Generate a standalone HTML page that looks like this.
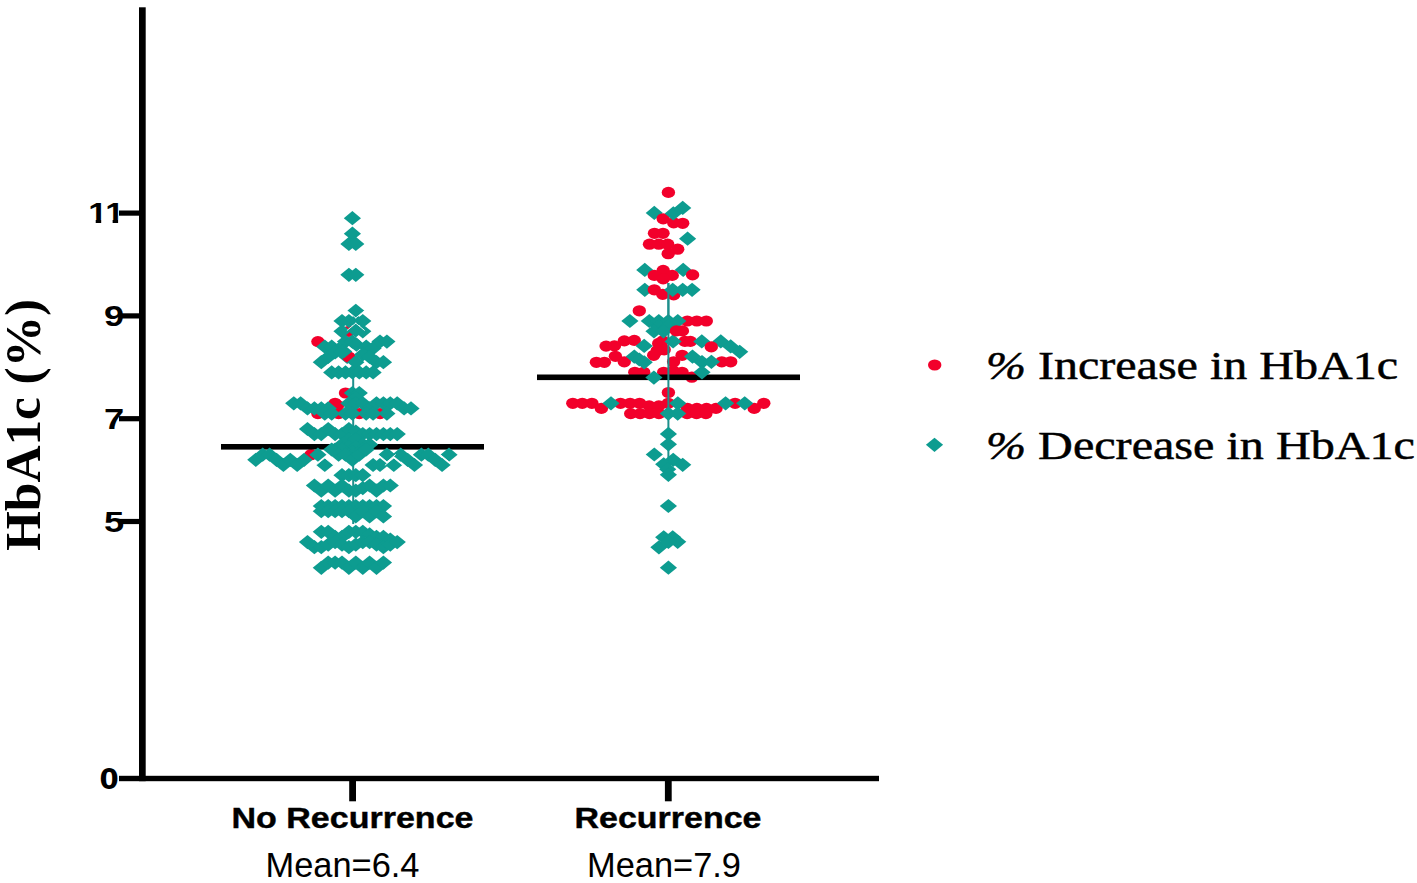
<!DOCTYPE html>
<html lang="en"><head><meta charset="utf-8"><title>HbA1c (%) by recurrence</title>
<style>html,body{margin:0;padding:0;background:#fff;overflow:hidden}svg{display:block}</style></head>
<body>
<svg width="1417" height="883" viewBox="0 0 1417 883">
<rect width="1417" height="883" fill="#fff"/>
<g id="left-under"><g fill="#0D9C90"><path d="M338.6 357.0L347.2 349.9L355.8 357.0L347.2 364.1Z"/></g></g>
<g id="left-red"><g fill="#F2002B"><ellipse cx="348.9" cy="331.3" rx="6.7" ry="5.6"/></g>
<g fill="#F2002B"><ellipse cx="317.9" cy="341.6" rx="6.7" ry="5.6"/></g>
<g fill="#F2002B"><ellipse cx="348.9" cy="357.0" rx="6.7" ry="5.6"/></g>
<g fill="#F2002B"><ellipse cx="345.5" cy="393.0" rx="6.7" ry="5.6"/></g>
<g fill="#F2002B"><ellipse cx="317.9" cy="413.6" rx="6.7" ry="5.6"/></g>
<g fill="#F2002B"><ellipse cx="338.6" cy="413.6" rx="6.7" ry="5.6"/></g>
<g fill="#F2002B"><ellipse cx="359.3" cy="413.6" rx="6.7" ry="5.6"/></g>
<g fill="#F2002B"><ellipse cx="380.0" cy="413.6" rx="6.7" ry="5.6"/></g>
<g fill="#F2002B"><ellipse cx="335.1" cy="403.3" rx="6.7" ry="5.6"/></g>
<g fill="#F2002B"><ellipse cx="337.5" cy="405.5" rx="6.7" ry="5.6"/></g>
<g fill="#F2002B"><ellipse cx="311.0" cy="454.7" rx="6.7" ry="5.6"/></g></g>
<g id="right-0c"><g fill="#F2002B"><ellipse cx="668.4" cy="192.4" rx="6.7" ry="5.6"/></g>
<g fill="#F2002B"><ellipse cx="654.5" cy="233.3" rx="6.7" ry="5.6"/></g>
<g fill="#F2002B"><ellipse cx="663.0" cy="233.3" rx="6.7" ry="5.6"/></g>
<g fill="#F2002B"><ellipse cx="649.5" cy="244.2" rx="6.7" ry="5.6"/></g>
<g fill="#F2002B"><ellipse cx="658.8" cy="244.2" rx="6.7" ry="5.6"/></g>
<g fill="#F2002B"><ellipse cx="667.7" cy="244.2" rx="6.7" ry="5.6"/></g>
<g fill="#F2002B"><ellipse cx="677.7" cy="249.2" rx="6.7" ry="5.6"/></g>
<g fill="#F2002B"><ellipse cx="668.2" cy="253.7" rx="6.7" ry="5.6"/></g>
<g fill="#F2002B"><ellipse cx="639.3" cy="310.8" rx="6.7" ry="5.6"/></g>
<g fill="#F2002B"><ellipse cx="687.3" cy="321.0" rx="6.7" ry="5.6"/></g>
<g fill="#F2002B"><ellipse cx="696.8" cy="321.0" rx="6.7" ry="5.6"/></g>
<g fill="#F2002B"><ellipse cx="706.3" cy="321.0" rx="6.7" ry="5.6"/></g>
<g fill="#F2002B"><ellipse cx="624.3" cy="340.9" rx="6.7" ry="5.6"/></g>
<g fill="#F2002B"><ellipse cx="634.3" cy="340.4" rx="6.7" ry="5.6"/></g>
<g fill="#F2002B"><ellipse cx="658.7" cy="343.4" rx="6.7" ry="5.6"/></g>
<g fill="#F2002B"><ellipse cx="662.7" cy="340.9" rx="6.7" ry="5.6"/></g>
<g fill="#F2002B"><ellipse cx="657.2" cy="350.8" rx="6.7" ry="5.6"/></g>
<g fill="#F2002B"><ellipse cx="664.2" cy="349.8" rx="6.7" ry="5.6"/></g>
<g fill="#F2002B"><ellipse cx="653.7" cy="355.3" rx="6.7" ry="5.6"/></g>
<g fill="#F2002B"><ellipse cx="684.9" cy="341.4" rx="6.7" ry="5.6"/></g>
<g fill="#F2002B"><ellipse cx="690.4" cy="341.4" rx="6.7" ry="5.6"/></g>
<g fill="#F2002B"><ellipse cx="606.1" cy="346.1" rx="6.7" ry="5.6"/></g>
<g fill="#F2002B"><ellipse cx="614.4" cy="345.9" rx="6.7" ry="5.6"/></g>
<g fill="#F2002B"><ellipse cx="615.4" cy="356.3" rx="6.7" ry="5.6"/></g>
<g fill="#F2002B"><ellipse cx="596.4" cy="362.3" rx="6.7" ry="5.6"/></g>
<g fill="#F2002B"><ellipse cx="604.4" cy="362.3" rx="6.7" ry="5.6"/></g>
<g fill="#F2002B"><ellipse cx="624.3" cy="361.8" rx="6.7" ry="5.6"/></g>
<g fill="#F2002B"><ellipse cx="682.1" cy="355.3" rx="6.7" ry="5.6"/></g>
<g fill="#F2002B"><ellipse cx="673.6" cy="361.8" rx="6.7" ry="5.6"/></g>
<g fill="#F2002B"><ellipse cx="721.8" cy="361.8" rx="6.7" ry="5.6"/></g>
<g fill="#F2002B"><ellipse cx="730.7" cy="361.8" rx="6.7" ry="5.6"/></g>
<g fill="#F2002B"><ellipse cx="634.8" cy="372.3" rx="6.7" ry="5.6"/></g>
<g fill="#F2002B"><ellipse cx="643.7" cy="372.3" rx="6.7" ry="5.6"/></g>
<g fill="#F2002B"><ellipse cx="663.7" cy="372.3" rx="6.7" ry="5.6"/></g>
<g fill="#F2002B"><ellipse cx="673.1" cy="370.8" rx="6.7" ry="5.6"/></g>
<g fill="#F2002B"><ellipse cx="682.1" cy="372.3" rx="6.7" ry="5.6"/></g>
<g fill="#F2002B"><ellipse cx="691.8" cy="377.2" rx="6.7" ry="5.6"/></g>
<g fill="#F2002B"><ellipse cx="668.4" cy="392.5" rx="6.7" ry="5.6"/></g>
<g fill="#F2002B"><ellipse cx="572.8" cy="403.3" rx="6.7" ry="5.6"/></g>
<g fill="#F2002B"><ellipse cx="582.3" cy="403.3" rx="6.7" ry="5.6"/></g>
<g fill="#F2002B"><ellipse cx="591.9" cy="403.3" rx="6.7" ry="5.6"/></g>
<g fill="#F2002B"><ellipse cx="601.4" cy="408.4" rx="6.7" ry="5.6"/></g>
<g fill="#F2002B"><ellipse cx="620.5" cy="403.3" rx="6.7" ry="5.6"/></g>
<g fill="#F2002B"><ellipse cx="630.1" cy="403.3" rx="6.7" ry="5.6"/></g>
<g fill="#F2002B"><ellipse cx="639.6" cy="403.3" rx="6.7" ry="5.6"/></g>
<g fill="#F2002B"><ellipse cx="649.2" cy="405.9" rx="6.7" ry="5.6"/></g>
<g fill="#F2002B"><ellipse cx="658.8" cy="405.9" rx="6.7" ry="5.6"/></g>
<g fill="#F2002B"><ellipse cx="668.3" cy="403.3" rx="6.7" ry="5.6"/></g>
<g fill="#F2002B"><ellipse cx="687.4" cy="408.4" rx="6.7" ry="5.6"/></g>
<g fill="#F2002B"><ellipse cx="696.9" cy="408.4" rx="6.7" ry="5.6"/></g>
<g fill="#F2002B"><ellipse cx="706.5" cy="408.4" rx="6.7" ry="5.6"/></g>
<g fill="#F2002B"><ellipse cx="716.0" cy="408.4" rx="6.7" ry="5.6"/></g>
<g fill="#F2002B"><ellipse cx="735.1" cy="403.3" rx="6.7" ry="5.6"/></g>
<g fill="#F2002B"><ellipse cx="754.2" cy="408.4" rx="6.7" ry="5.6"/></g>
<g fill="#F2002B"><ellipse cx="763.8" cy="403.3" rx="6.7" ry="5.6"/></g>
<g fill="#F2002B"><ellipse cx="630.7" cy="413.6" rx="6.7" ry="5.6"/></g>
<g fill="#F2002B"><ellipse cx="640.1" cy="413.6" rx="6.7" ry="5.6"/></g>
<g fill="#F2002B"><ellipse cx="649.5" cy="413.6" rx="6.7" ry="5.6"/></g>
<g fill="#F2002B"><ellipse cx="658.9" cy="413.6" rx="6.7" ry="5.6"/></g>
<g fill="#F2002B"><ellipse cx="687.1" cy="413.6" rx="6.7" ry="5.6"/></g>
<g fill="#F2002B"><ellipse cx="696.5" cy="413.6" rx="6.7" ry="5.6"/></g>
<g fill="#F2002B"><ellipse cx="705.9" cy="413.6" rx="6.7" ry="5.6"/></g></g>
<rect x="221" y="444" width="263" height="5.6" fill="#000"/>
<rect x="537" y="374.5" width="263" height="5.6" fill="#000"/>
<rect x="352.2" y="376.5" width="2" height="147.5" fill="#1E8F8C"/>
<rect x="667.4" y="283" width="2" height="176" fill="#1E8F8C"/>
<g id="left-teal"><g fill="#0D9C90"><path d="M343.8 218.2L352.4 211.1L361.0 218.2L352.4 225.3Z"/></g>
<g fill="#0D9C90"><path d="M343.8 233.7L352.4 226.6L361.0 233.7L352.4 240.8Z"/></g>
<g fill="#0D9C90"><path d="M340.3 243.9L348.9 236.8L357.6 243.9L348.9 251.0Z"/></g>
<g fill="#0D9C90"><path d="M347.2 243.9L355.8 236.8L364.4 243.9L355.8 251.0Z"/></g>
<g fill="#0D9C90"><path d="M340.3 274.8L348.9 267.7L357.6 274.8L348.9 281.9Z"/></g>
<g fill="#0D9C90"><path d="M347.2 274.8L355.8 267.7L364.4 274.8L355.8 281.9Z"/></g>
<g fill="#0D9C90"><path d="M333.4 321.0L342.0 313.9L350.6 321.0L342.0 328.1Z"/></g>
<g fill="#0D9C90"><path d="M340.3 321.0L348.9 313.9L357.6 321.0L348.9 328.1Z"/></g>
<g fill="#0D9C90"><path d="M347.2 321.0L355.8 313.9L364.4 321.0L355.8 328.1Z"/></g>
<g fill="#0D9C90"><path d="M354.1 321.0L362.8 313.9L371.4 321.0L362.8 328.1Z"/></g>
<g fill="#0D9C90"><path d="M333.4 331.3L342.0 324.2L350.6 331.3L342.0 338.4Z"/></g>
<g fill="#0D9C90"><path d="M354.1 331.3L362.8 324.2L371.4 331.3L362.8 338.4Z"/></g>
<g fill="#0D9C90"><path d="M347.2 330.3L355.8 323.2L364.4 330.3L355.8 337.4Z"/></g><path d="M355.8 323.2L347.2 330.3M355.8 323.2L364.4 330.3" fill="none" stroke="#fff" stroke-width="0.9" stroke-linecap="round"/>
<g fill="#0D9C90"><path d="M347.2 310.8L355.8 303.7L364.4 310.8L355.8 317.9Z"/></g><path d="M355.8 317.9L347.2 310.8M355.8 317.9L364.4 310.8" fill="none" stroke="#fff" stroke-width="0.9" stroke-linecap="round"/>
<g fill="#0D9C90"><path d="M316.2 346.7L324.8 339.6L333.4 346.7L324.8 353.8Z"/></g>
<g fill="#0D9C90"><path d="M323.1 346.7L331.7 339.6L340.3 346.7L331.7 353.8Z"/></g>
<g fill="#0D9C90"><path d="M330.0 349.3L338.6 342.2L347.2 349.3L338.6 356.4Z"/></g>
<g fill="#0D9C90"><path d="M336.9 341.6L345.5 334.5L354.1 341.6L345.5 348.7Z"/></g>
<g fill="#0D9C90"><path d="M343.8 341.6L352.4 334.5L361.0 341.6L352.4 348.7Z"/></g>
<g fill="#0D9C90"><path d="M335.1 351.4L343.7 344.3L352.3 351.4L343.7 358.5Z"/></g>
<g fill="#0D9C90"><path d="M347.8 344.7L356.4 337.6L365.0 344.7L356.4 351.8Z"/></g>
<g fill="#0D9C90"><path d="M357.6 346.7L366.2 339.6L374.8 346.7L366.2 353.8Z"/></g>
<g fill="#0D9C90"><path d="M364.5 348.3L373.1 341.2L381.7 348.3L373.1 355.4Z"/></g>
<g fill="#0D9C90"><path d="M371.4 341.6L380.0 334.5L388.6 341.6L380.0 348.7Z"/></g>
<g fill="#0D9C90"><path d="M378.3 341.6L386.9 334.5L395.5 341.6L386.9 348.7Z"/></g>
<g fill="#0D9C90"><path d="M312.7 362.2L321.3 355.1L329.9 362.2L321.3 369.3Z"/></g>
<g fill="#0D9C90"><path d="M319.6 357.0L328.2 349.9L336.9 357.0L328.2 364.1Z"/></g>
<g fill="#0D9C90"><path d="M326.5 352.4L335.1 345.3L343.8 352.4L335.1 359.5Z"/></g>
<g fill="#0D9C90"><path d="M333.4 351.9L342.0 344.8L350.6 351.9L342.0 359.0Z"/></g>
<g fill="#0D9C90"><path d="M347.2 362.2L355.8 355.1L364.4 362.2L355.8 369.3Z"/></g>
<g fill="#0D9C90"><path d="M354.1 354.4L362.8 347.3L371.4 354.4L362.8 361.6Z"/></g>
<g fill="#0D9C90"><path d="M361.0 357.0L369.6 349.9L378.2 357.0L369.6 364.1Z"/></g>
<g fill="#0D9C90"><path d="M367.9 362.2L376.5 355.1L385.1 362.2L376.5 369.3Z"/></g>
<g fill="#0D9C90"><path d="M374.8 362.2L383.4 355.1L392.1 362.2L383.4 369.3Z"/></g>
<g fill="#0D9C90"><path d="M323.1 372.4L331.7 365.3L340.3 372.4L331.7 379.5Z"/></g>
<g fill="#0D9C90"><path d="M330.0 372.4L338.6 365.3L347.2 372.4L338.6 379.5Z"/></g>
<g fill="#0D9C90"><path d="M336.9 372.4L345.5 365.3L354.1 372.4L345.5 379.5Z"/></g>
<g fill="#0D9C90"><path d="M343.8 372.4L352.4 365.3L361.0 372.4L352.4 379.5Z"/></g>
<g fill="#0D9C90"><path d="M350.7 372.4L359.3 365.3L367.9 372.4L359.3 379.5Z"/></g>
<g fill="#0D9C90"><path d="M357.6 372.4L366.2 365.3L374.8 372.4L366.2 379.5Z"/></g>
<g fill="#0D9C90"><path d="M364.5 372.4L373.1 365.3L381.7 372.4L373.1 379.5Z"/></g>
<g fill="#0D9C90"><path d="M343.8 393.0L352.4 385.9L361.0 393.0L352.4 400.1Z"/></g>
<g fill="#0D9C90"><path d="M350.7 393.0L359.3 385.9L367.9 393.0L359.3 400.1Z"/></g>
<g fill="#0D9C90"><path d="M347.2 398.1L355.8 391.0L364.4 398.1L355.8 405.2Z"/></g>
<g fill="#0D9C90"><path d="M285.1 403.3L293.8 396.2L302.4 403.3L293.8 410.4Z"/></g>
<g fill="#0D9C90"><path d="M292.0 403.3L300.6 396.2L309.2 403.3L300.6 410.4Z"/></g>
<g fill="#0D9C90"><path d="M298.9 408.4L307.5 401.3L316.1 408.4L307.5 415.5Z"/></g>
<g fill="#0D9C90"><path d="M305.8 408.4L314.4 401.3L323.1 408.4L314.4 415.5Z"/></g>
<g fill="#0D9C90"><path d="M312.7 408.4L321.3 401.3L329.9 408.4L321.3 415.5Z"/></g>
<g fill="#0D9C90"><path d="M319.6 408.4L328.2 401.3L336.9 408.4L328.2 415.5Z"/></g>
<g fill="#0D9C90"><path d="M340.3 403.3L348.9 396.2L357.6 403.3L348.9 410.4Z"/></g>
<g fill="#0D9C90"><path d="M347.2 403.3L355.8 396.2L364.4 403.3L355.8 410.4Z"/></g>
<g fill="#0D9C90"><path d="M354.1 403.3L362.8 396.2L371.4 403.3L362.8 410.4Z"/></g>
<g fill="#0D9C90"><path d="M361.0 408.4L369.6 401.3L378.2 408.4L369.6 415.5Z"/></g>
<g fill="#0D9C90"><path d="M367.9 403.3L376.5 396.2L385.1 403.3L376.5 410.4Z"/></g>
<g fill="#0D9C90"><path d="M374.8 403.3L383.4 396.2L392.1 403.3L383.4 410.4Z"/></g>
<g fill="#0D9C90"><path d="M381.7 403.3L390.3 396.2L398.9 403.3L390.3 410.4Z"/></g>
<g fill="#0D9C90"><path d="M388.6 403.3L397.2 396.2L405.9 403.3L397.2 410.4Z"/></g>
<g fill="#0D9C90"><path d="M395.5 408.4L404.1 401.3L412.8 408.4L404.1 415.5Z"/></g>
<g fill="#0D9C90"><path d="M402.4 408.4L411.0 401.3L419.6 408.4L411.0 415.5Z"/></g>
<g fill="#0D9C90"><path d="M316.2 413.6L324.8 406.5L333.4 413.6L324.8 420.7Z"/></g>
<g fill="#0D9C90"><path d="M323.1 413.6L331.7 406.5L340.3 413.6L331.7 420.7Z"/></g>
<g fill="#0D9C90"><path d="M336.9 413.6L345.5 406.5L354.1 413.6L345.5 420.7Z"/></g>
<g fill="#0D9C90"><path d="M343.8 413.6L352.4 406.5L361.0 413.6L352.4 420.7Z"/></g>
<g fill="#0D9C90"><path d="M357.6 413.6L366.2 406.5L374.8 413.6L366.2 420.7Z"/></g>
<g fill="#0D9C90"><path d="M364.5 413.6L373.1 406.5L381.7 413.6L373.1 420.7Z"/></g>
<g fill="#0D9C90"><path d="M378.3 413.6L386.9 406.5L395.5 413.6L386.9 420.7Z"/></g>
<g fill="#0D9C90"><path d="M298.9 429.0L307.5 421.9L316.1 429.0L307.5 436.1Z"/></g>
<g fill="#0D9C90"><path d="M305.8 434.1L314.4 427.0L323.1 434.1L314.4 441.2Z"/></g>
<g fill="#0D9C90"><path d="M312.7 434.1L321.3 427.0L329.9 434.1L321.3 441.2Z"/></g>
<g fill="#0D9C90"><path d="M319.6 429.0L328.2 421.9L336.9 429.0L328.2 436.1Z"/></g>
<g fill="#0D9C90"><path d="M326.5 434.1L335.1 427.0L343.8 434.1L335.1 441.2Z"/></g>
<g fill="#0D9C90"><path d="M333.4 434.1L342.0 427.0L350.6 434.1L342.0 441.2Z"/></g>
<g fill="#0D9C90"><path d="M340.3 429.0L348.9 421.9L357.6 429.0L348.9 436.1Z"/></g>
<g fill="#0D9C90"><path d="M347.2 431.6L355.8 424.4L364.4 431.6L355.8 438.7Z"/></g>
<g fill="#0D9C90"><path d="M354.1 434.1L362.8 427.0L371.4 434.1L362.8 441.2Z"/></g>
<g fill="#0D9C90"><path d="M361.0 434.1L369.6 427.0L378.2 434.1L369.6 441.2Z"/></g>
<g fill="#0D9C90"><path d="M367.9 434.1L376.5 427.0L385.1 434.1L376.5 441.2Z"/></g>
<g fill="#0D9C90"><path d="M374.8 434.1L383.4 427.0L392.1 434.1L383.4 441.2Z"/></g>
<g fill="#0D9C90"><path d="M381.7 434.1L390.3 427.0L398.9 434.1L390.3 441.2Z"/></g>
<g fill="#0D9C90"><path d="M388.6 434.1L397.2 427.0L405.9 434.1L397.2 441.2Z"/></g>
<g fill="#0D9C90"><path d="M326.5 449.5L335.1 442.4L343.8 449.5L335.1 456.6Z"/></g>
<g fill="#0D9C90"><path d="M333.4 444.4L342.0 437.3L350.6 444.4L342.0 451.5Z"/></g>
<g fill="#0D9C90"><path d="M340.3 439.3L348.9 432.2L357.6 439.3L348.9 446.4Z"/></g>
<g fill="#0D9C90"><path d="M347.2 439.3L355.8 432.2L364.4 439.3L355.8 446.4Z"/></g>
<g fill="#0D9C90"><path d="M354.1 444.4L362.8 437.3L371.4 444.4L362.8 451.5Z"/></g>
<g fill="#0D9C90"><path d="M361.0 444.4L369.6 437.3L378.2 444.4L369.6 451.5Z"/></g>
<g fill="#0D9C90"><path d="M340.3 447.0L348.9 439.9L357.6 447.0L348.9 454.1Z"/></g>
<g fill="#0D9C90"><path d="M347.2 447.0L355.8 439.9L364.4 447.0L355.8 454.1Z"/></g>
<g fill="#0D9C90"><path d="M343.8 452.1L352.4 445.0L361.0 452.1L352.4 459.2Z"/></g>
<g fill="#0D9C90"><path d="M333.4 449.5L342.0 442.4L350.6 449.5L342.0 456.6Z"/></g>
<g fill="#0D9C90"><path d="M354.1 449.5L362.8 442.4L371.4 449.5L362.8 456.6Z"/></g>
<g fill="#0D9C90"><path d="M247.2 459.8L255.8 452.7L264.4 459.8L255.8 466.9Z"/></g>
<g fill="#0D9C90"><path d="M254.1 454.7L262.7 447.6L271.3 454.7L262.7 461.8Z"/></g>
<g fill="#0D9C90"><path d="M261.0 454.7L269.6 447.6L278.2 454.7L269.6 461.8Z"/></g>
<g fill="#0D9C90"><path d="M267.9 459.8L276.5 452.7L285.1 459.8L276.5 466.9Z"/></g>
<g fill="#0D9C90"><path d="M274.8 465.0L283.4 457.9L292.0 465.0L283.4 472.1Z"/></g>
<g fill="#0D9C90"><path d="M281.7 459.8L290.3 452.7L298.9 459.8L290.3 466.9Z"/></g>
<g fill="#0D9C90"><path d="M288.6 465.0L297.2 457.9L305.8 465.0L297.2 472.1Z"/></g>
<g fill="#0D9C90"><path d="M295.5 459.8L304.1 452.7L312.7 459.8L304.1 466.9Z"/></g>
<g fill="#0D9C90"><path d="M309.3 454.7L317.9 447.6L326.5 454.7L317.9 461.8Z"/></g>
<g fill="#0D9C90"><path d="M323.1 449.5L331.7 442.4L340.3 449.5L331.7 456.6Z"/></g>
<g fill="#0D9C90"><path d="M330.0 454.7L338.6 447.6L347.2 454.7L338.6 461.8Z"/></g>
<g fill="#0D9C90"><path d="M336.9 454.7L345.5 447.6L354.1 454.7L345.5 461.8Z"/></g>
<g fill="#0D9C90"><path d="M343.8 459.8L352.4 452.7L361.0 459.8L352.4 466.9Z"/></g>
<g fill="#0D9C90"><path d="M350.7 454.7L359.3 447.6L367.9 454.7L359.3 461.8Z"/></g>
<g fill="#0D9C90"><path d="M357.6 449.5L366.2 442.4L374.8 449.5L366.2 456.6Z"/></g>
<g fill="#0D9C90"><path d="M364.5 465.0L373.1 457.9L381.7 465.0L373.1 472.1Z"/></g>
<g fill="#0D9C90"><path d="M371.4 465.0L380.0 457.9L388.6 465.0L380.0 472.1Z"/></g>
<g fill="#0D9C90"><path d="M392.1 454.7L400.7 447.6L409.3 454.7L400.7 461.8Z"/></g>
<g fill="#0D9C90"><path d="M399.0 459.8L407.6 452.7L416.2 459.8L407.6 466.9Z"/></g>
<g fill="#0D9C90"><path d="M405.9 465.0L414.5 457.9L423.1 465.0L414.5 472.1Z"/></g>
<g fill="#0D9C90"><path d="M412.8 454.7L421.4 447.6L430.0 454.7L421.4 461.8Z"/></g>
<g fill="#0D9C90"><path d="M419.7 454.7L428.3 447.6L436.9 454.7L428.3 461.8Z"/></g>
<g fill="#0D9C90"><path d="M426.6 459.8L435.2 452.7L443.8 459.8L435.2 466.9Z"/></g>
<g fill="#0D9C90"><path d="M433.5 465.0L442.1 457.9L450.7 465.0L442.1 472.1Z"/></g>
<g fill="#0D9C90"><path d="M316.2 465.0L324.8 457.9L333.4 465.0L324.8 472.1Z"/></g><path d="M324.8 457.9L316.2 465.0M324.8 457.9L333.4 465.0" fill="none" stroke="#fff" stroke-width="0.9" stroke-linecap="round"/>
<g fill="#0D9C90"><path d="M378.3 454.7L386.9 447.6L395.5 454.7L386.9 461.8Z"/></g><path d="M386.9 461.8L378.3 454.7M386.9 461.8L395.5 454.7" fill="none" stroke="#fff" stroke-width="0.9" stroke-linecap="round"/>
<g fill="#0D9C90"><path d="M385.2 465.0L393.8 457.9L402.4 465.0L393.8 472.1Z"/></g><path d="M393.8 457.9L385.2 465.0M393.8 457.9L402.4 465.0" fill="none" stroke="#fff" stroke-width="0.9" stroke-linecap="round"/>
<g fill="#0D9C90"><path d="M440.4 454.7L449.0 447.6L457.6 454.7L449.0 461.8Z"/></g><path d="M449.0 461.8L440.4 454.7" fill="none" stroke="#fff" stroke-width="0.9" stroke-linecap="round"/>
<g fill="#0D9C90"><path d="M333.4 475.2L342.0 468.1L350.6 475.2L342.0 482.3Z"/></g>
<g fill="#0D9C90"><path d="M340.3 475.2L348.9 468.1L357.6 475.2L348.9 482.3Z"/></g>
<g fill="#0D9C90"><path d="M347.2 475.2L355.8 468.1L364.4 475.2L355.8 482.3Z"/></g>
<g fill="#0D9C90"><path d="M354.1 475.2L362.8 468.1L371.4 475.2L362.8 482.3Z"/></g>
<g fill="#0D9C90"><path d="M305.8 485.5L314.4 478.4L323.1 485.5L314.4 492.6Z"/></g>
<g fill="#0D9C90"><path d="M312.7 490.7L321.3 483.6L329.9 490.7L321.3 497.8Z"/></g>
<g fill="#0D9C90"><path d="M319.6 485.5L328.2 478.4L336.9 485.5L328.2 492.6Z"/></g>
<g fill="#0D9C90"><path d="M326.5 490.7L335.1 483.6L343.8 490.7L335.1 497.8Z"/></g>
<g fill="#0D9C90"><path d="M333.4 485.5L342.0 478.4L350.6 485.5L342.0 492.6Z"/></g>
<g fill="#0D9C90"><path d="M340.3 490.7L348.9 483.6L357.6 490.7L348.9 497.8Z"/></g>
<g fill="#0D9C90"><path d="M347.2 490.7L355.8 483.6L364.4 490.7L355.8 497.8Z"/></g>
<g fill="#0D9C90"><path d="M354.1 488.1L362.8 481.0L371.4 488.1L362.8 495.2Z"/></g>
<g fill="#0D9C90"><path d="M361.0 485.5L369.6 478.4L378.2 485.5L369.6 492.6Z"/></g>
<g fill="#0D9C90"><path d="M367.9 490.7L376.5 483.6L385.1 490.7L376.5 497.8Z"/></g>
<g fill="#0D9C90"><path d="M374.8 485.5L383.4 478.4L392.1 485.5L383.4 492.6Z"/></g>
<g fill="#0D9C90"><path d="M381.7 485.5L390.3 478.4L398.9 485.5L390.3 492.6Z"/></g>
<g fill="#0D9C90"><path d="M312.7 506.1L321.3 499.0L329.9 506.1L321.3 513.2Z"/></g>
<g fill="#0D9C90"><path d="M319.6 506.1L328.2 499.0L336.9 506.1L328.2 513.2Z"/></g>
<g fill="#0D9C90"><path d="M326.5 506.1L335.1 499.0L343.8 506.1L335.1 513.2Z"/></g>
<g fill="#0D9C90"><path d="M333.4 506.1L342.0 499.0L350.6 506.1L342.0 513.2Z"/></g>
<g fill="#0D9C90"><path d="M340.3 506.1L348.9 499.0L357.6 506.1L348.9 513.2Z"/></g>
<g fill="#0D9C90"><path d="M347.2 506.1L355.8 499.0L364.4 506.1L355.8 513.2Z"/></g>
<g fill="#0D9C90"><path d="M354.1 506.1L362.8 499.0L371.4 506.1L362.8 513.2Z"/></g>
<g fill="#0D9C90"><path d="M361.0 506.1L369.6 499.0L378.2 506.1L369.6 513.2Z"/></g>
<g fill="#0D9C90"><path d="M367.9 506.1L376.5 499.0L385.1 506.1L376.5 513.2Z"/></g>
<g fill="#0D9C90"><path d="M374.8 506.1L383.4 499.0L392.1 506.1L383.4 513.2Z"/></g>
<g fill="#0D9C90"><path d="M312.7 511.2L321.3 504.1L329.9 511.2L321.3 518.3Z"/></g>
<g fill="#0D9C90"><path d="M319.6 511.2L328.2 504.1L336.9 511.2L328.2 518.3Z"/></g>
<g fill="#0D9C90"><path d="M326.5 511.2L335.1 504.1L343.8 511.2L335.1 518.3Z"/></g>
<g fill="#0D9C90"><path d="M333.4 511.2L342.0 504.1L350.6 511.2L342.0 518.3Z"/></g>
<g fill="#0D9C90"><path d="M340.3 511.2L348.9 504.1L357.6 511.2L348.9 518.3Z"/></g>
<g fill="#0D9C90"><path d="M347.2 516.4L355.8 509.3L364.4 516.4L355.8 523.5Z"/></g>
<g fill="#0D9C90"><path d="M354.1 511.2L362.8 504.1L371.4 511.2L362.8 518.3Z"/></g>
<g fill="#0D9C90"><path d="M361.0 516.4L369.6 509.3L378.2 516.4L369.6 523.5Z"/></g>
<g fill="#0D9C90"><path d="M367.9 511.2L376.5 504.1L385.1 511.2L376.5 518.3Z"/></g>
<g fill="#0D9C90"><path d="M374.8 516.4L383.4 509.3L392.1 516.4L383.4 523.5Z"/></g>
<g fill="#0D9C90"><path d="M312.7 531.8L321.3 524.7L329.9 531.8L321.3 538.9Z"/></g>
<g fill="#0D9C90"><path d="M319.6 531.8L328.2 524.7L336.9 531.8L328.2 538.9Z"/></g>
<g fill="#0D9C90"><path d="M326.5 536.9L335.1 529.8L343.8 536.9L335.1 544.0Z"/></g>
<g fill="#0D9C90"><path d="M333.4 536.9L342.0 529.8L350.6 536.9L342.0 544.0Z"/></g>
<g fill="#0D9C90"><path d="M340.3 531.8L348.9 524.7L357.6 531.8L348.9 538.9Z"/></g>
<g fill="#0D9C90"><path d="M347.2 531.8L355.8 524.7L364.4 531.8L355.8 538.9Z"/></g>
<g fill="#0D9C90"><path d="M354.1 531.8L362.8 524.7L371.4 531.8L362.8 538.9Z"/></g>
<g fill="#0D9C90"><path d="M361.0 534.4L369.6 527.2L378.2 534.4L369.6 541.5Z"/></g>
<g fill="#0D9C90"><path d="M367.9 536.9L376.5 529.8L385.1 536.9L376.5 544.0Z"/></g>
<g fill="#0D9C90"><path d="M374.8 536.9L383.4 529.8L392.1 536.9L383.4 544.0Z"/></g>
<g fill="#0D9C90"><path d="M381.7 539.5L390.3 532.4L398.9 539.5L390.3 546.6Z"/></g>
<g fill="#0D9C90"><path d="M298.9 542.1L307.5 535.0L316.1 542.1L307.5 549.2Z"/></g>
<g fill="#0D9C90"><path d="M305.8 547.2L314.4 540.1L323.1 547.2L314.4 554.3Z"/></g>
<g fill="#0D9C90"><path d="M312.7 547.2L321.3 540.1L329.9 547.2L321.3 554.3Z"/></g>
<g fill="#0D9C90"><path d="M319.6 544.6L328.2 537.5L336.9 544.6L328.2 551.7Z"/></g>
<g fill="#0D9C90"><path d="M326.5 542.1L335.1 535.0L343.8 542.1L335.1 549.2Z"/></g>
<g fill="#0D9C90"><path d="M333.4 544.6L342.0 537.5L350.6 544.6L342.0 551.7Z"/></g>
<g fill="#0D9C90"><path d="M340.3 547.2L348.9 540.1L357.6 547.2L348.9 554.3Z"/></g>
<g fill="#0D9C90"><path d="M347.2 544.6L355.8 537.5L364.4 544.6L355.8 551.7Z"/></g>
<g fill="#0D9C90"><path d="M354.1 542.1L362.8 535.0L371.4 542.1L362.8 549.2Z"/></g>
<g fill="#0D9C90"><path d="M361.0 542.1L369.6 535.0L378.2 542.1L369.6 549.2Z"/></g>
<g fill="#0D9C90"><path d="M367.9 544.6L376.5 537.5L385.1 544.6L376.5 551.7Z"/></g>
<g fill="#0D9C90"><path d="M374.8 547.2L383.4 540.1L392.1 547.2L383.4 554.3Z"/></g>
<g fill="#0D9C90"><path d="M381.7 544.6L390.3 537.5L398.9 544.6L390.3 551.7Z"/></g>
<g fill="#0D9C90"><path d="M388.6 542.1L397.2 535.0L405.9 542.1L397.2 549.2Z"/></g>
<g fill="#0D9C90"><path d="M312.7 567.8L321.3 560.7L329.9 567.8L321.3 574.9Z"/></g>
<g fill="#0D9C90"><path d="M319.6 562.6L328.2 555.5L336.9 562.6L328.2 569.7Z"/></g>
<g fill="#0D9C90"><path d="M326.5 562.6L335.1 555.5L343.8 562.6L335.1 569.7Z"/></g>
<g fill="#0D9C90"><path d="M333.4 562.6L342.0 555.5L350.6 562.6L342.0 569.7Z"/></g>
<g fill="#0D9C90"><path d="M340.3 567.8L348.9 560.7L357.6 567.8L348.9 574.9Z"/></g>
<g fill="#0D9C90"><path d="M347.2 562.6L355.8 555.5L364.4 562.6L355.8 569.7Z"/></g>
<g fill="#0D9C90"><path d="M354.1 567.8L362.8 560.7L371.4 567.8L362.8 574.9Z"/></g>
<g fill="#0D9C90"><path d="M361.0 562.6L369.6 555.5L378.2 562.6L369.6 569.7Z"/></g>
<g fill="#0D9C90"><path d="M367.9 567.8L376.5 560.7L385.1 567.8L376.5 574.9Z"/></g>
<g fill="#0D9C90"><path d="M374.8 562.6L383.4 555.5L392.1 562.6L383.4 569.7Z"/></g></g>
<g id="right-0d"><g fill="#0D9C90"><path d="M645.7 212.9L654.3 205.8L662.9 212.9L654.3 220.0Z"/></g>
<g fill="#0D9C90"><path d="M636.2 269.9L644.8 262.8L653.4 269.9L644.8 277.0Z"/></g>
<g fill="#0D9C90"><path d="M674.6 269.9L683.2 262.8L691.8 269.9L683.2 277.0Z"/></g>
<g fill="#0D9C90"><path d="M636.2 289.8L644.8 282.7L653.4 289.8L644.8 296.9Z"/></g></g>
<g id="right-1"><g fill="#F2002B"><ellipse cx="663.2" cy="218.8" rx="6.7" ry="5.6"/></g>
<g fill="#F2002B"><ellipse cx="673.7" cy="222.8" rx="6.7" ry="5.6"/></g>
<g fill="#F2002B"><ellipse cx="682.7" cy="223.3" rx="6.7" ry="5.6"/></g>
<g fill="#0D9C90"><path d="M679.0 238.7L687.6 231.6L696.2 238.7L687.6 245.8Z"/></g>
<g fill="#F2002B"><ellipse cx="663.2" cy="270.4" rx="6.7" ry="5.6"/></g>
<g fill="#F2002B"><ellipse cx="654.3" cy="275.4" rx="6.7" ry="5.6"/></g>
<g fill="#F2002B"><ellipse cx="672.2" cy="275.4" rx="6.7" ry="5.6"/></g>
<g fill="#F2002B"><ellipse cx="663.2" cy="278.9" rx="6.7" ry="5.6"/></g>
<g fill="#F2002B"><ellipse cx="692.6" cy="274.9" rx="6.7" ry="5.6"/></g>
<g fill="#F2002B"><ellipse cx="654.3" cy="289.8" rx="6.7" ry="5.6"/></g>
<g fill="#F2002B"><ellipse cx="662.7" cy="294.3" rx="6.7" ry="5.6"/></g>
<g fill="#F2002B"><ellipse cx="673.7" cy="294.8" rx="6.7" ry="5.6"/></g>
<g fill="#0D9C90"><path d="M621.3 321.0L629.9 313.9L638.5 321.0L629.9 328.1Z"/></g>
<g fill="#0D9C90"><path d="M640.7 321.0L649.3 313.9L657.9 321.0L649.3 328.1Z"/></g>
<g fill="#0D9C90"><path d="M650.2 321.0L658.8 313.9L667.4 321.0L658.8 328.1Z"/></g>
<g fill="#0D9C90"><path d="M659.7 321.0L668.3 313.9L676.9 321.0L668.3 328.1Z"/></g>
<g fill="#0D9C90"><path d="M669.2 321.0L677.8 313.9L686.4 321.0L677.8 328.1Z"/></g>
<g fill="#0D9C90"><path d="M650.2 326.2L658.8 319.1L667.4 326.2L658.8 333.3Z"/></g>
<g fill="#0D9C90"><path d="M659.7 326.2L668.3 319.1L676.9 326.2L668.3 333.3Z"/></g>
<g fill="#0D9C90"><path d="M645.4 331.3L654.0 324.2L662.6 331.3L654.0 338.4Z"/></g>
<g fill="#0D9C90"><path d="M654.9 331.3L663.5 324.2L672.1 331.3L663.5 338.4Z"/></g>
<g fill="#0D9C90"><path d="M635.6 345.9L644.2 338.8L652.8 345.9L644.2 353.0Z"/></g>
<g fill="#0D9C90"><path d="M664.5 341.4L673.1 334.3L681.7 341.4L673.1 348.5Z"/></g>
<g fill="#0D9C90"><path d="M693.2 341.4L701.8 334.3L710.4 341.4L701.8 348.5Z"/></g>
<g fill="#0D9C90"><path d="M712.2 341.4L720.8 334.3L729.4 341.4L720.8 348.5Z"/></g>
<g fill="#0D9C90"><path d="M722.1 346.4L730.7 339.3L739.3 346.4L730.7 353.5Z"/></g>
<g fill="#0D9C90"><path d="M731.1 351.8L739.7 344.7L748.3 351.8L739.7 358.9Z"/></g>
<g fill="#0D9C90"><path d="M625.7 356.6L634.3 349.5L642.9 356.6L634.3 363.7Z"/></g>
<g fill="#0D9C90"><path d="M630.7 359.5L639.3 352.4L647.9 359.5L639.3 366.6Z"/></g>
<g fill="#0D9C90"><path d="M635.6 362.3L644.2 355.2L652.8 362.3L644.2 369.4Z"/></g>
<g fill="#0D9C90"><path d="M683.9 356.6L692.5 349.5L701.1 356.6L692.5 363.7Z"/></g>
<g fill="#0D9C90"><path d="M693.4 362.1L702.0 355.0L710.6 362.1L702.0 369.2Z"/></g>
<g fill="#0D9C90"><path d="M702.8 361.8L711.4 354.7L720.0 361.8L711.4 368.9Z"/></g>
<g fill="#0D9C90"><path d="M693.4 372.3L702.0 365.2L710.6 372.3L702.0 379.4Z"/></g>
<g fill="#0D9C90"><path d="M645.3 377.6L653.9 370.5L662.5 377.6L653.9 384.7Z"/></g>
<g fill="#0D9C90"><path d="M602.4 403.3L611.0 396.2L619.6 403.3L611.0 410.4Z"/></g>
<g fill="#0D9C90"><path d="M669.2 403.3L677.8 396.2L686.4 403.3L677.8 410.4Z"/></g>
<g fill="#0D9C90"><path d="M717.0 403.3L725.6 396.2L734.2 403.3L725.6 410.4Z"/></g>
<g fill="#0D9C90"><path d="M736.1 403.3L744.7 396.2L753.3 403.3L744.7 410.4Z"/></g>
<g fill="#0D9C90"><path d="M659.7 413.6L668.3 406.5L676.9 413.6L668.3 420.7Z"/></g>
<g fill="#0D9C90"><path d="M669.1 413.6L677.7 406.5L686.3 413.6L677.7 420.7Z"/></g>
<g fill="#0D9C90"><path d="M659.8 433.9L668.4 426.8L677.0 433.9L668.4 441.0Z"/></g>
<g fill="#0D9C90"><path d="M659.8 444.3L668.4 437.2L677.0 444.3L668.4 451.4Z"/></g>
<g fill="#0D9C90"><path d="M645.7 454.5L654.3 447.4L662.9 454.5L654.3 461.6Z"/></g>
<g fill="#0D9C90"><path d="M664.6 459.8L673.2 452.7L681.8 459.8L673.2 466.9Z"/></g>
<g fill="#0D9C90"><path d="M655.1 464.3L663.7 457.2L672.3 464.3L663.7 471.4Z"/></g>
<g fill="#0D9C90"><path d="M674.1 464.8L682.7 457.7L691.3 464.8L682.7 471.9Z"/></g>
<g fill="#0D9C90"><path d="M659.1 469.3L667.7 462.2L676.3 469.3L667.7 476.4Z"/></g>
<g fill="#0D9C90"><path d="M659.8 474.8L668.4 467.7L677.0 474.8L668.4 481.9Z"/></g>
<g fill="#0D9C90"><path d="M659.8 506.0L668.4 498.9L677.0 506.0L668.4 513.1Z"/></g>
<g fill="#0D9C90"><path d="M655.1 537.3L663.7 530.2L672.3 537.3L663.7 544.4Z"/></g>
<g fill="#0D9C90"><path d="M664.1 537.3L672.7 530.2L681.3 537.3L672.7 544.4Z"/></g>
<g fill="#0D9C90"><path d="M650.3 547.3L658.9 540.2L667.5 547.3L658.9 554.4Z"/></g>
<g fill="#0D9C90"><path d="M669.1 541.8L677.7 534.7L686.3 541.8L677.7 548.9Z"/></g>
<g fill="#0D9C90"><path d="M659.8 542.0L668.4 534.9L677.0 542.0L668.4 549.1Z"/></g>
<g fill="#0D9C90"><path d="M659.8 567.7L668.4 560.6L677.0 567.7L668.4 574.8Z"/></g></g>
<g id="right-2"><g fill="#0D9C90"><path d="M664.7 213.4L673.3 206.3L681.9 213.4L673.3 220.5Z"/></g>
<g fill="#0D9C90"><path d="M674.1 207.9L682.7 200.8L691.3 207.9L682.7 215.0Z"/></g>
<g fill="#0D9C90"><path d="M664.1 289.8L672.7 282.7L681.3 289.8L672.7 296.9Z"/></g>
<g fill="#0D9C90"><path d="M674.1 289.8L682.7 282.7L691.3 289.8L682.7 296.9Z"/></g>
<g fill="#0D9C90"><path d="M683.5 289.8L692.1 282.7L700.7 289.8L692.1 296.9Z"/></g>
<g fill="#F2002B"><ellipse cx="676.4" cy="330.9" rx="6.7" ry="5.6"/></g>
<g fill="#F2002B"><ellipse cx="682.4" cy="330.9" rx="6.7" ry="5.6"/></g>
<g fill="#F2002B"><ellipse cx="711.3" cy="346.9" rx="6.7" ry="5.6"/></g></g>
<rect x="667.4" y="283" width="2" height="34" fill="#1E8F8C"/>
<rect x="139" y="7.3" width="6.7" height="773.9" fill="#000"/>
<rect x="119" y="775.8" width="760" height="5.4" fill="#000"/>
<rect x="119" y="518.9" width="22" height="5.2" fill="#000"/>
<rect x="119" y="416.1" width="22" height="5.2" fill="#000"/>
<rect x="119" y="313.3" width="22" height="5.2" fill="#000"/>
<rect x="119" y="210.5" width="22" height="5.2" fill="#000"/>
<rect x="349.2" y="779" width="6.8" height="22.3" fill="#000"/>
<rect x="664.9" y="779" width="6.8" height="22.3" fill="#000"/>
<clipPath id="c11"><rect x="84" y="196" width="40" height="23.8"/><rect x="95.7" y="219" width="5.5" height="6"/><rect x="112.6" y="219" width="5.5" height="6"/></clipPath>
<g clip-path="url(#c11)"><text transform="scale(1.1584 1)" x="76.23 90.82" y="223.0" font-family="'Liberation Sans', Arial, Helvetica, sans-serif" font-size="29.5" font-weight="bold">11</text></g>
<text x="104.0" y="326.1" font-family="'Liberation Sans', Arial, Helvetica, sans-serif" font-size="29.5" font-weight="bold" text-anchor="start" textLength="20.2" lengthAdjust="spacingAndGlyphs">9</text>
<text x="104.0" y="428.9" font-family="'Liberation Sans', Arial, Helvetica, sans-serif" font-size="29.5" font-weight="bold" text-anchor="start" textLength="20.2" lengthAdjust="spacingAndGlyphs">7</text>
<text x="104.0" y="531.7" font-family="'Liberation Sans', Arial, Helvetica, sans-serif" font-size="29.5" font-weight="bold" text-anchor="start" textLength="20.2" lengthAdjust="spacingAndGlyphs">5</text>
<text x="99.5" y="788.6" font-family="'DejaVu Sans', 'Liberation Sans', sans-serif" font-size="27.6" font-weight="bold" text-anchor="start">0</text>
<text x="231.5" y="827.6" font-family="'Liberation Sans', Arial, Helvetica, sans-serif" font-size="28.6" font-weight="bold" text-anchor="start" textLength="242" lengthAdjust="spacingAndGlyphs" stroke="#000" stroke-width="0.4">No Recurrence</text>
<text x="574.5" y="827.6" font-family="'Liberation Sans', Arial, Helvetica, sans-serif" font-size="28.6" font-weight="bold" text-anchor="start" textLength="187" lengthAdjust="spacingAndGlyphs" stroke="#000" stroke-width="0.4">Recurrence</text>
<text x="265.5" y="877.4" font-family="'Liberation Sans', Arial, Helvetica, sans-serif" font-size="35" font-weight="normal" text-anchor="start" textLength="154" lengthAdjust="spacingAndGlyphs">Mean=6.4</text>
<text x="587" y="877.4" font-family="'Liberation Sans', Arial, Helvetica, sans-serif" font-size="35" font-weight="normal" text-anchor="start" textLength="154" lengthAdjust="spacingAndGlyphs">Mean=7.9</text>
<g fill="#F2002B"><ellipse cx="934.7" cy="365.0" rx="6.7" ry="5.6"/></g>
<g fill="#0D9C90"><path d="M925.9 444.8L934.5 437.7L943.1 444.8L934.5 451.9Z"/></g>
<text x="986" y="379.3" font-family="'Liberation Serif', 'Times New Roman', Times, serif" font-size="40" font-weight="normal" text-anchor="start" textLength="412" lengthAdjust="spacingAndGlyphs" stroke="#000" stroke-width="0.5"><tspan font-style="italic">%</tspan> Increase in HbA1c</text>
<text x="986" y="458.8" font-family="'Liberation Serif', 'Times New Roman', Times, serif" font-size="40" font-weight="normal" text-anchor="start" textLength="429" lengthAdjust="spacingAndGlyphs" stroke="#000" stroke-width="0.5"><tspan font-style="italic">%</tspan> Decrease in HbA1c</text>
<text transform="translate(39.8 551) rotate(-90)" font-family="'Liberation Serif', 'Times New Roman', Times, serif" font-size="51" font-weight="bold" textLength="252" lengthAdjust="spacingAndGlyphs">HbA1c (%)</text>
</svg>
</body></html>
